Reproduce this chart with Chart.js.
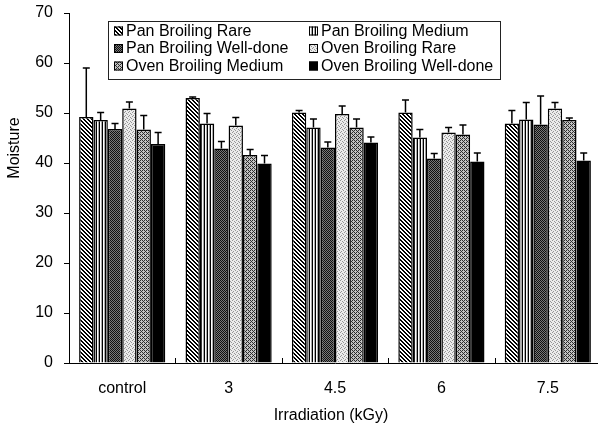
<!DOCTYPE html>
<html><head><meta charset="utf-8">
<script src="https://cdn.jsdelivr.net/npm/chart.js@4.4.1/dist/chart.umd.min.js"></script>
<style>html,body{margin:0;padding:0;background:#fff;overflow:hidden;width:598px;height:429px}canvas{display:block}</style>
</head><body>
<canvas id="c" width="602" height="429" style="width:602px;height:429px"></canvas>
<script>
const categories = ['control', '3', '4.5', '6', '7.5'];
const seriesLabels = ['Pan Broiling Rare', 'Pan Broiling Medium', 'Pan Broiling Well-done', 'Oven Broiling Rare', 'Oven Broiling Medium', 'Oven Broiling Well-done'];
const panRare = [49.2, 53.0, 50.1, 50.1, 47.9];
const panRareErr = [9.8, 0.2, 0.4, 2.5, 2.6];
const panMedium = [48.6, 47.9, 47.1, 45.1, 48.7];
const panMediumErr = [1.5, 2.0, 1.7, 1.6, 3.4];
const panWell = [46.8, 42.9, 43.1, 40.9, 47.7];
const panWellErr = [1.1, 1.4, 1.1, 1.0, 5.7];
const ovenRare = [50.9, 47.5, 49.8, 46.1, 50.9];
const ovenRareErr = [1.3, 1.6, 1.6, 1.0, 1.2];
const ovenMedium = [46.7, 41.6, 47.1, 45.7, 48.6];
const ovenMediumErr = [2.8, 1.1, 1.7, 1.9, 0.4];
const ovenWell = [43.8, 39.9, 44.1, 40.3, 40.5];
const ovenWellErr = [2.3, 1.6, 1.1, 1.7, 1.5];
const yMin = 0, yMax = 70, yStep = 10;
const xTitle = 'Irradiation (kGy)';
const yTitle = 'Moisture';

const canvas = document.getElementById('c');
const ctx = canvas.getContext('2d');

function makePattern(w, h, fn) {
  const c = document.createElement('canvas');
  c.width = w; c.height = h;
  const cx = c.getContext('2d');
  const img = cx.createImageData(w, h);
  for (let y = 0; y < h; y++) for (let x = 0; x < w; x++) {
    const v = fn(x, y); const i = (y * w + x) * 4;
    img.data[i] = v; img.data[i + 1] = v; img.data[i + 2] = v; img.data[i + 3] = 255;
  }
  cx.putImageData(img, 0, 0);
  return ctx.createPattern(c, 'repeat');
}
const mod = (a, n) => ((a % n) + n) % n;
const fills = [
  makePattern(4, 4, (x, y) => mod(x - y, 4) < 2 ? 0 : 255),
  makePattern(3, 1, (x, y) => x === 0 ? 0 : (x === 1 ? 255 : 170)),
  makePattern(2, 2, (x, y) => (x + y) % 2 === 0 ? 15 : 120),
  makePattern(4, 4, (x, y) => ((x === 0 && y === 0) || (x === 2 && y === 1) || (x === 1 && y === 3) || (x === 3 && y === 2)) ? 150 : 235),
  makePattern(4, 4, (x, y) => (mod(x + y, 4) === 0 || mod(x - y, 4) === 2) ? 45 : 195),
  '#000000'
];
const values = [panRare, panMedium, panWell, ovenRare, ovenMedium, ovenWell];
const errors = [panRareErr, panMediumErr, panWellErr, ovenRareErr, ovenMediumErr, ovenWellErr];

const FONT = '"Liberation Sans", Arial, sans-serif';

const extras = {
  id: 'extras',
  afterDatasetsDraw(chart) {
    const c = chart.ctx;
    const y = chart.scales.y;
    c.save();
    c.strokeStyle = '#000'; c.lineWidth = 1.5;
    chart.data.datasets.forEach((ds, di) => {
      const meta = chart.getDatasetMeta(di);
      meta.data.forEach((bar, i) => {
        const v = ds.data[i], e = errors[di][i];
        const y0 = y.getPixelForValue(v), y1 = y.getPixelForValue(v + e);
        c.beginPath();
        c.moveTo(bar.x, y0); c.lineTo(bar.x, y1);
        c.moveTo(bar.x - 3.5, y1); c.lineTo(bar.x + 3.5, y1);
        c.stroke();
      });
    });
    c.restore();
  },
  afterDraw(chart) {
    const c = chart.ctx;
    const xs = chart.scales.x;
    const area = chart.chartArea;
    c.save();
    c.strokeStyle = '#000'; c.lineWidth = 1;
    const n = categories.length;
    for (let i = 0; i < n; i++) {
      const a = xs.getPixelForTick(i);
      const b = i < n - 1 ? xs.getPixelForTick(i + 1) : a + (a - xs.getPixelForTick(i - 1));
      const m = Math.round((a + b) / 2) + 0.5;
      c.beginPath(); c.moveTo(m, area.bottom); c.lineTo(m, area.bottom - 5); c.stroke();
    }
    const lx = 108, ly = 21, lw = 392, lh = 58;
    c.fillStyle = '#fff';
    c.fillRect(lx, ly, lw, lh);
    c.strokeStyle = '#222'; c.lineWidth = 1;
    c.strokeRect(lx + 0.5, ly + 0.5, lw, lh);
    c.font = '16px ' + FONT;
    c.textBaseline = 'middle'; c.textAlign = 'left';
    const rows = [31, 48.5, 66];
    const cols = [114, 309];
    seriesLabels.forEach((lab, k) => {
      const r = Math.floor(k / 2), col = k % 2;
      const mx = cols[col], my = rows[r];
      c.fillStyle = fills[k];
      c.fillRect(mx, my - 4.5, 9, 9);
      c.strokeStyle = '#000';
      c.strokeRect(mx + 0.5, my - 4.5 + 0.5, 8, 8);
      c.fillStyle = '#000';
      c.fillText(lab, mx + 12, my + 0.5);
    });
    c.fillStyle = '#000';
    c.font = '16px ' + FONT;
    c.textAlign = 'center'; c.textBaseline = 'middle';
    c.fillText(xTitle, 331, 416);
    c.translate(15, 148); c.rotate(-Math.PI / 2);
    c.fillText(yTitle, 0, 0);
    c.restore();
  }
};

new Chart(ctx, {
  type: 'bar',
  data: {
    labels: categories,
    datasets: values.map((v, i) => ({
      label: seriesLabels[i],
      data: v,
      backgroundColor: fills[i],
      borderColor: '#000',
      borderWidth: 1.5,
      categoryPercentage: 0.81,
      barPercentage: 1.0
    }))
  },
  options: {
    responsive: false,
    animation: false,
    devicePixelRatio: 1,
    layout: { padding: { top: 13, right: 1, left: 0, bottom: 0 } },
    plugins: { legend: { display: false }, tooltip: { enabled: false } },
    scales: {
      x: {
        offset: true,
        grid: { display: false },
        border: { display: true, color: '#000', width: 1 },
        ticks: { color: '#000', font: { family: FONT, size: 16 }, padding: 8, maxRotation: 0, autoSkip: false },
        afterFit(s) { s.height = 66; s.paddingLeft = 0; s.paddingRight = 0; }
      },
      y: {
        min: yMin, max: yMax,
        grid: { display: true, drawOnChartArea: false, tickLength: 5, color: '#000' },
        border: { display: true, color: '#000', width: 1 },
        ticks: { stepSize: yStep, color: '#000', font: { family: FONT, size: 16 }, padding: 11 },
        afterFit(s) { s.width = 69; s.paddingTop = 0; s.paddingBottom = 0; }
      }
    }
  },
  plugins: [extras]
});
</script>
</body></html>
